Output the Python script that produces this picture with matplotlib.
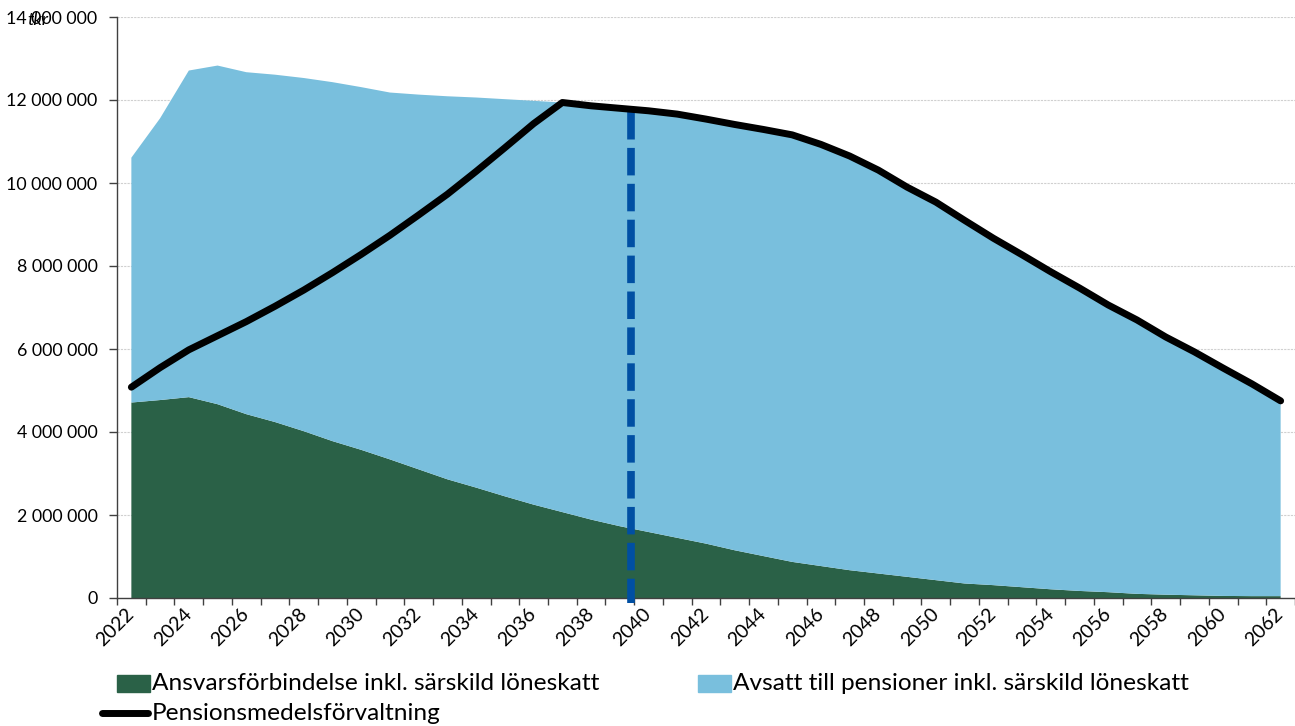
import numpy as np
import matplotlib
matplotlib.use("Agg")
from matplotlib import pyplot as plt
from matplotlib.ticker import FuncFormatter, MultipleLocator
from matplotlib.patches import Rectangle
from matplotlib.lines import Line2D

plt.rcParams['font.family'] = ['Lato', 'DejaVu Sans']

# tkr
years = np.arange(2022, 2063)
ansvar = [4710000, 4770000, 4840000, 4670000, 4430000, 4240000, 4020000, 3780000,
          3570000, 3340000, 3100000, 2860000, 2660000, 2450000, 2250000, 2070000,
          1890000, 1730000, 1590000, 1450000, 1310000, 1150000, 1010000, 870000,
          770000, 670000, 590000, 510000, 430000, 350000, 310000, 260000,
          210000, 170000, 140000, 100000, 80000, 65000, 50000, 45000, 45000]
avsatt = [5900000, 6790000, 7870000, 8160000, 8240000, 8370000, 8510000, 8650000,
          8740000, 8840000, 9030000, 9230000, 9400000, 9570000, 9730000, 9870000,
          9970000, 10070000, 10150000, 10210000, 10230000, 10260000, 10280000, 10290000,
          10160000, 9980000, 9720000, 9390000, 9110000, 8750000, 8360000, 8010000,
          7650000, 7300000, 6920000, 6600000, 6210000, 5865000, 5490000, 5115000, 4705000]
forvaltning = [5080000, 5550000, 5980000, 6320000, 6660000, 7030000, 7420000, 7840000,
               8280000, 8740000, 9230000, 9730000, 10280000, 10850000, 11430000, 11940000,
               11860000, 11800000, 11740000, 11660000, 11540000, 11410000, 11290000, 11160000,
               10930000, 10650000, 10310000, 9900000, 9540000, 9100000, 8670000, 8270000,
               7860000, 7470000, 7060000, 6700000, 6290000, 5930000, 5540000, 5160000, 4750000]
split_year = 2039.4
split_top = 11720000

labels = ['Ansvarsförbindelse inkl. särskild löneskatt',
          'Avsatt till pensioner inkl. särskild löneskatt',
          'Pensionsmedelsförvaltning']
GREEN = '#2A6147'
BLUE = '#79BFDD'
DASH = '#004FA3'

W, H = 1295, 726
fig = plt.figure(figsize=(W / 100, H / 100), dpi=100)
ax = fig.add_axes([117 / W, 1 - 598 / H, 1 - 117 / W, (598 - 17) / H])

ax.stackplot(years, ansvar, avsatt, colors=[GREEN, BLUE], linewidth=0, zorder=2)
ax.plot(years, forvaltning, color='black', lw=5, solid_capstyle='round',
        solid_joinstyle='round', zorder=4)
ax.plot([split_year, split_year], [split_top, -120000], color=DASH, lw=5.5,
        dashes=(3.6, 1.1), zorder=3, clip_on=False)

ax.set_xlim(2021.5, 2062.27)
ax.set_ylim(0, 14000000)

ax.yaxis.set_major_locator(MultipleLocator(2000000))
ax.yaxis.set_major_formatter(FuncFormatter(lambda v, p: f'{int(v):,}'.replace(',', ' ')))
ax.grid(axis='y', color='#D0D0D0', lw=0.8, ls=(0, (2, 1)), zorder=1)

ax.set_xticks(years[::2])
ax.set_xticks(np.arange(2021.5, 2063, 1), minor=True)
ax.tick_params(axis='x', which='major', length=0, pad=9.5, labelsize=14)
ax.tick_params(axis='x', which='minor', length=5, width=1, color='#404040', direction='out')
ax.tick_params(axis='y', length=6, width=1, color='#404040', labelsize=12.8, pad=8)
for t in ax.get_xticklabels():
    t.set_rotation(45)
    t.set_ha('right')
    t.set_va('center')
    t.set_rotation_mode('anchor')

for s in ['top', 'right']:
    ax.spines[s].set_visible(False)
for s in ['left', 'bottom']:
    ax.spines[s].set_color('#404040')
    ax.spines[s].set_linewidth(1)

fig.text(27 / W, 1 - 25 / H, 'tkr', style='italic', fontsize=13)

# legend drawn below the plot
LFS = 17.6
fig.patches.append(Rectangle((117 / W, 1 - 692 / H), 33 / W, 17 / H, color=GREEN,
                             transform=fig.transFigure))
fig.text(152 / W, 1 - 683 / H, labels[0], fontsize=LFS, va='center')
fig.patches.append(Rectangle((698 / W, 1 - 692 / H), 33 / W, 17 / H, color=BLUE,
                             transform=fig.transFigure))
fig.text(733 / W, 1 - 683 / H, labels[1], fontsize=LFS, va='center')
fig.lines.append(Line2D([102 / W, 148 / W], [1 - 713 / H, 1 - 713 / H], color='black',
                        lw=5, solid_capstyle='round', transform=fig.transFigure))
fig.text(152 / W, 1 - 713 / H, labels[2], fontsize=LFS, va='center')

fig.savefig('out.png', dpi=100)
